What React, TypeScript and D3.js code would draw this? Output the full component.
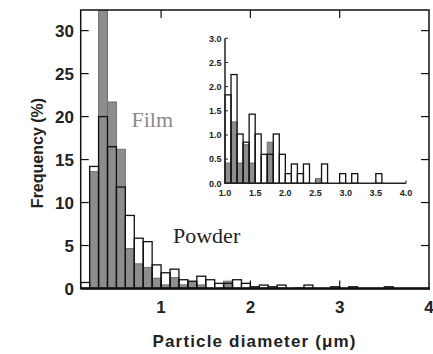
import * as d3 from 'd3';

// histogram bins (lower edge, µm), width 0.1
const BINS = [
  0.1, 0.2, 0.3, 0.4, 0.5, 0.6, 0.7, 0.8, 0.9, 1.0,
  1.1, 1.2, 1.3, 1.4, 1.5, 1.6, 1.7, 1.8, 1.9, 2.0,
  2.1, 2.2, 2.3, 2.4, 2.5, 2.6, 2.7, 2.8, 2.9, 3.0,
  3.1, 3.2, 3.3, 3.4, 3.5,
];
const BIN_W = 0.1;

const POWDER = [
  0.7, 14.2, 20.0, 16.5, 11.8, 8.5, 5.85, 5.45, 2.75, 1.83,
  2.25, 1.02, 0.85, 1.43, 1.02, 0.6, 0.6, 1.02, 0.6, 0.2,
  0.4, 0.2, 0.4, 0, 0, 0.4, 0, 0, 0.2, 0,
  0.2, 0, 0, 0, 0.2,
];
const FILM = [
  0, 13.6, 34, 21.7, 16.2, 4.65, 2.87, 2.45, 1.2, 0.42,
  1.27, 0.42, 0.8, 0.42, 0, 0, 0.85, 0, 0, 0,
  0, 0, 0, 0, 0.1, 0, 0, 0, 0, 0,
  0, 0, 0, 0, 0,
];

const Y_TICKS = [0, 5, 10, 15, 20, 25, 30];
const X_TICKS = [1, 2, 3, 4];
const INSET_X_TICKS = [1.0, 1.5, 2.0, 2.5, 3.0, 3.5, 4.0];
const INSET_Y_TICKS = [0, 0.5, 1.0, 1.5, 2.0, 2.5, 3.0];

const FILM_FILL = '#8d8d8d';
const FILM_STROKE = '#707070';
const SANS = 'Liberation Sans, Arial, sans-serif';
const SERIF = 'Liberation Serif, Times New Roman, serif';

function Bars({ x, y, lo, hi }) {
  const rows = BINS.map((b, i) => ({ b, p: POWDER[i], f: FILM[i] })).filter(
    (d) => d.b >= lo - 1e-9 && d.b < hi
  );
  const y0 = y(0);
  return (
    <g>
      {rows.filter((d) => d.p > 0).map((d) => (
        <rect key={'pw' + d.b} x={x(d.b)} y={y(d.p)} width={x(d.b + BIN_W) - x(d.b)} height={y0 - y(d.p)} fill="#fff" />
      ))}
      {rows.filter((d) => d.f > 0).map((d) => (
        <rect key={'f' + d.b} x={x(d.b)} y={y(d.f)} width={x(d.b + BIN_W) - x(d.b)} height={y0 - y(d.f)}
          fill={FILM_FILL} stroke={FILM_STROKE} strokeWidth={1} />
      ))}
      {rows.filter((d) => d.p > 0).map((d) => (
        <rect key={'po' + d.b} x={x(d.b)} y={y(d.p)} width={x(d.b + BIN_W) - x(d.b)} height={y0 - y(d.p)}
          fill="none" stroke="#111" strokeWidth={1.3} />
      ))}
    </g>
  );
}

export default function App() {
  const W = 433, H = 354;
  const x = d3.scaleLinear().domain([0.1, 4]).range([80.7, 429]);
  const y = d3.scaleLinear().domain([0, 32.4]).range([288.5, 10]);
  const [x0, x1] = x.range();
  const [yb, yt] = y.range();

  const ix = d3.scaleLinear().domain([1, 4]).range([225, 406]);
  const iy = d3.scaleLinear().domain([0, 3]).range([183.3, 38.3]);

  return (
    <svg width={W} height={H} style={{ position: 'absolute', left: 0, top: 0, background: '#fff' }}>
      <defs>
        <clipPath id="plotClip">
          <rect x={x0} y={yt} width={x1 - x0} height={yb - yt} />
        </clipPath>
      </defs>

      <g clipPath="url(#plotClip)">
        <Bars x={x} y={y} lo={0.1} hi={4} />
      </g>

      {/* frame */}
      <rect x={x0} y={yt} width={x1 - x0} height={yb - yt} fill="none" stroke="#111" strokeWidth={1.5} />
      <line x1={x0} x2={x1 + 1} y1={yb} y2={yb} stroke="#111" strokeWidth={2.5} />

      {Y_TICKS.map((t) => (
        <g key={'yt' + t}>
          <line x1={x0} x2={x0 + 8} y1={y(t)} y2={y(t)} stroke="#111" strokeWidth={1.2} />
          <line x1={x1 - 8} x2={x1} y1={y(t)} y2={y(t)} stroke="#111" strokeWidth={1.2} />
          <text x={74} y={y(t)} dy="0.36em" textAnchor="end" fontFamily={SANS} fontWeight="bold" fontSize={17} fill="#222">
            {t}
          </text>
        </g>
      ))}
      {X_TICKS.map((t) => (
        <g key={'xt' + t}>
          {t < 4 && <line x1={x(t)} x2={x(t)} y1={yb} y2={yb - 8} stroke="#111" strokeWidth={1.2} />}
          {t < 4 && <line x1={x(t)} x2={x(t)} y1={yt} y2={yt + 8} stroke="#111" strokeWidth={1.2} />}
          <text x={x(t)} y={313} textAnchor="middle" fontFamily={SANS} fontWeight="bold" fontSize={17} fill="#222">
            {t}
          </text>
        </g>
      ))}

      <text transform="translate(43,153) rotate(-90)" textAnchor="middle" fontFamily={SANS} fontWeight="bold" fontSize={16} fill="#222">
        Frequency (%)
      </text>
      <text x={254} y={347} textAnchor="middle" fontFamily={SANS} fontWeight="bold" fontSize={17} fill="#222"
        textLength={203} lengthAdjust="spacing">
        Particle diameter (μm)
      </text>

      <text x={131.5} y={126.5} fontFamily={SERIF} fontSize={22} fill="#8a8a8a">Film</text>
      <text x={173} y={243.3} fontFamily={SERIF} fontSize={22} fill="#222">Powder</text>

      {/* inset */}
      <Bars x={ix} y={iy} lo={1} hi={4} />
      <line x1={ix(1)} x2={ix(1)} y1={iy(0)} y2={iy(3)} stroke="#222" strokeWidth={1.5} />
      <line x1={ix(1)} x2={ix(4)} y1={iy(0)} y2={iy(0)} stroke="#222" strokeWidth={1.5} />
      {INSET_Y_TICKS.map((t) => (
        <g key={'iy' + t}>
          <line x1={ix(1)} x2={ix(1) + 3} y1={iy(t)} y2={iy(t)} stroke="#222" strokeWidth={1} />
          <text x={221.5} y={iy(t)} dy="0.36em" textAnchor="end" fontFamily={SANS} fontWeight="bold" fontSize={9} fill="#222">
            {t.toFixed(1)}
          </text>
        </g>
      ))}
      {INSET_X_TICKS.map((t) => (
        <g key={'ix' + t}>
          <line x1={ix(t)} x2={ix(t)} y1={iy(0)} y2={iy(0) - 3} stroke="#222" strokeWidth={1} />
          <text x={ix(t)} y={196} textAnchor="middle" fontFamily={SANS} fontWeight="bold" fontSize={9} fill="#222">
            {t.toFixed(1)}
          </text>
        </g>
      ))}
    </svg>
  );
}
